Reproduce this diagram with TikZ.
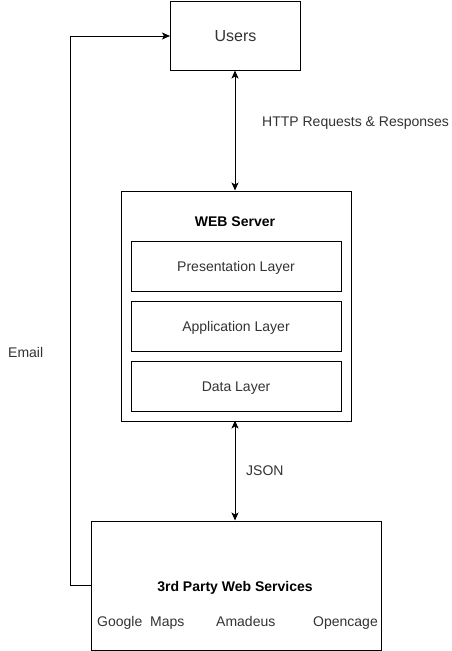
\documentclass[tikz,border=0pt]{standalone}
\usepackage{fontspec}
\setmainfont{Liberation Sans}
\usetikzlibrary{arrows.meta}
\begin{document}
\begin{tikzpicture}[x=1pt,y=-1pt,
  box/.style={draw=black,line width=1pt,fill=white,inner sep=0pt},
  lbl/.style={font=\fontsize{14}{16}\selectfont,text=black!80,inner sep=0pt,text height=10pt,text depth=0pt},
  conn/.style={line width=1pt,{Stealth[length=8pt,width=7pt,inset=2pt]}-{Stealth[length=8pt,width=7pt,inset=2pt]}},
  oneway/.style={line width=1pt,-{Stealth[length=8pt,width=7pt,inset=2pt]}}]
\fill[white] (0,0) rectangle (451,651);
\useasboundingbox (0,0) rectangle (451,651);
% boxes
\node[box,minimum width=130pt,minimum height=69pt,anchor=north west] (users) at (170,1) {};
\node[lbl,font=\fontsize{16}{18}\selectfont,text height=11.5pt] at (users.center) {Users};
\node[box,minimum width=230pt,minimum height=230pt,anchor=north west] (web) at (120.5,190.5) {};
\node[lbl,font=\bfseries\fontsize{14}{16}\selectfont,text=black] (webt) at (235,221) {WEB Server};
\node[box,minimum width=210pt,minimum height=50pt,anchor=north west] (pres) at (130.5,240.5) {};
\node[lbl] at (pres.center) {Presentation Layer};
\node[box,minimum width=210pt,minimum height=50pt,anchor=north west] (app) at (130.5,300.5) {};
\node[lbl] at (app.center) {Application Layer};
\node[box,minimum width=210pt,minimum height=50pt,anchor=north west] (data) at (130.5,360.5) {};
\node[lbl] at (data.center) {Data Layer};
\node[box,minimum width=290pt,minimum height=129pt,anchor=north west] (third) at (90.5,520.5) {};
\node[lbl,font=\bfseries\fontsize{14}{16}\selectfont,text=black] (tt) at (235,586) {3rd Party Web Services};
\node[lbl,anchor=west] (gm) at (97,621.5) {Google\ \ Maps};
\node[lbl,anchor=west] (am) at (216,621.5) {Amadeus};
\node[lbl,anchor=west] (oc) at (313,621.5) {Opencage};
% connectors
\draw[conn] (235,70.5) coordinate (u1) -- (235,190.5) coordinate (w1);
\node[lbl,anchor=west] (http) at (262,121) {HTTP Requests \& Responses};
\draw[conn] (235,420.5) coordinate (w2) -- (235,520.5) coordinate (t1);
\node[lbl,anchor=west] (json) at (246,470) {JSON};
\draw[oneway] (90.5,585.5) -- (70.5,585.5) -- (70.5,36) -- (users.west|-0,36);
\node[lbl,anchor=west] (email) at (8,352) {Email};
\end{tikzpicture}
\end{document}
